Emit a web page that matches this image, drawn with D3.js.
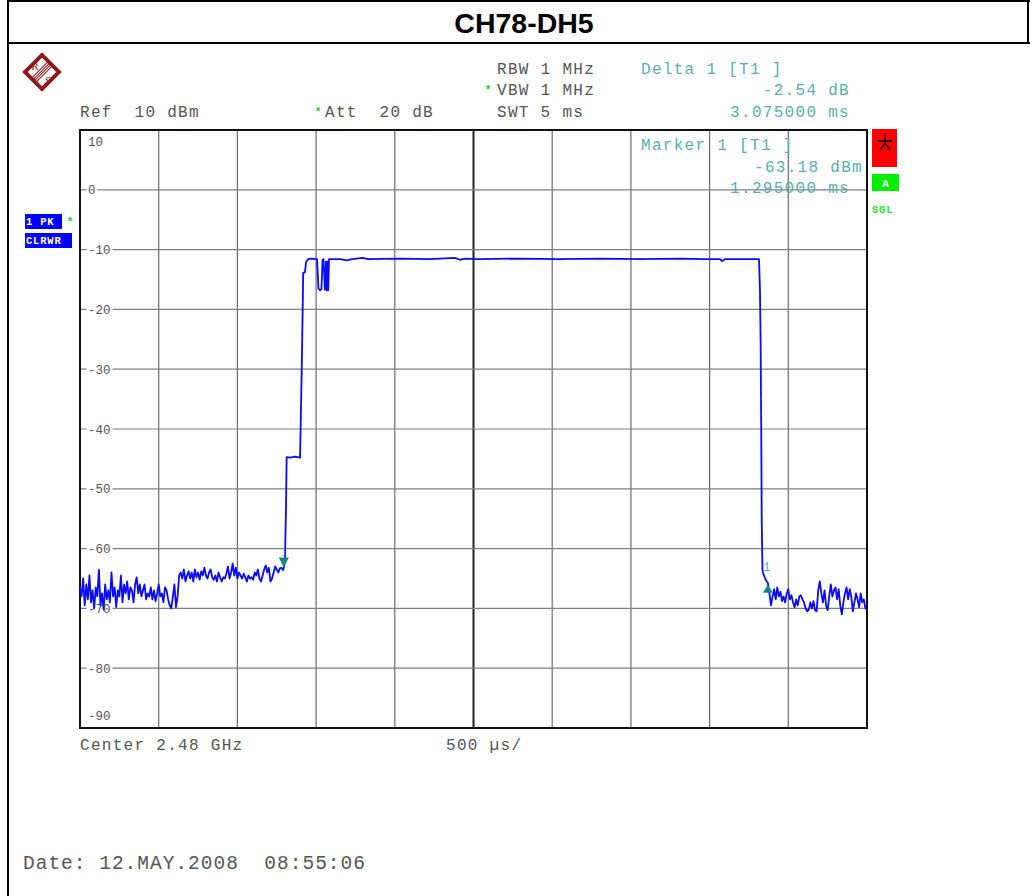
<!DOCTYPE html>
<html>
<head>
<meta charset="utf-8">
<script src="https://cdn.jsdelivr.net/npm/d3@7/dist/d3.min.js"></script>
<style>
  html, body { margin: 0; padding: 0; background: #fff; }
  svg { display: block; }
</style>
</head>
<body>
<svg id="chart" width="1030" height="896"></svg>
<script>
// ---- trace data (time in ms, level in dBm) ----
const sampleStepMs = 0.01;

// noise floor before the burst, sampled every 10 µs from 0 ms
const preBurstDbm = [
  -66.5, -68.0, -65.0, -69.5, -66.0, -68.5, -64.5, -69.0, -67.0, -70.0,
  -66.5, -68.0, -63.5, -69.5, -67.5, -70.2, -66.0, -68.5, -67.0, -69.0,
  -64.0, -68.0, -66.5, -69.8, -67.0, -68.0, -64.5, -69.0, -66.0, -67.5,
  -65.5, -68.5, -66.5, -67.0, -69.0, -66.0, -64.8, -67.5, -66.0, -68.0,
  -67.0, -66.0, -68.5, -67.5, -68.0, -66.5, -68.5, -67.0, -68.8, -67.5,
  -66.0, -68.0, -67.5, -69.0, -66.5, -67.0, -68.5, -69.5, -70.0, -68.0,
  -66.0, -69.8, -68.0,
  -64.5, -64.0, -65.0, -63.5, -65.5, -64.5, -63.8, -65.0, -64.0, -65.5,
  -63.5, -64.8, -64.0, -65.2, -63.8, -64.5, -63.2, -64.5, -65.0, -64.0,
  -63.5, -64.8, -65.2, -64.5, -65.5, -64.0, -64.8, -65.5, -64.8, -65.0,
  -64.2, -63.0, -65.0, -64.0, -62.5, -64.5, -63.2, -65.0, -64.0, -64.5,
  -65.0, -64.2, -64.8, -65.5, -64.5, -65.0, -64.8, -65.2, -64.0, -64.5,
  -63.5, -65.0, -65.5, -64.5, -63.5, -62.8, -64.0, -63.2, -65.5, -65.0,
  -64.0, -63.0, -63.5, -64.0, -63.3, -63.2
];

// the burst itself: rising edge, flat top and falling edge
const burstTimeMs = [
  1.290, 1.295, 1.302, 1.309, 1.313, 1.334, 1.366, 1.398, 1.409, 1.415,
  1.418, 1.429, 1.436, 1.449, 1.474, 1.506, 1.515, 1.525, 1.534, 1.541,
  1.547, 1.556, 1.563, 1.568, 1.573, 1.577, 1.582, 1.652, 1.696, 1.728,
  1.798, 1.830, 2.033, 2.224, 2.382, 2.414, 2.446, 2.541, 2.795, 3.049,
  3.304, 3.558, 3.812, 3.971, 4.066, 4.079, 4.098, 4.314, 4.320, 4.324,
  4.328, 4.331, 4.336, 4.339, 4.350, 4.358, 4.370
];
const burstDbm = [
  -63.6, -63.18, -61.9, -53.0, -44.7, -44.8, -44.6, -44.8, -29.6, -19.6,
  -13.9, -13.8, -12.1, -11.6, -11.5, -11.6, -16.5, -16.8, -16.6, -11.8,
  -11.6, -16.7, -12.0, -16.8, -12.0, -16.8, -11.6, -11.6, -11.8, -11.6,
  -11.4, -11.6, -11.5, -11.6, -11.4, -11.7, -11.5, -11.6, -11.5, -11.6,
  -11.5, -11.6, -11.5, -11.6, -11.6, -11.9, -11.6, -11.6, -16.8, -25.0,
  -40.0, -55.0, -63.6, -64.0, -64.8, -65.3, -65.72
];

// noise floor after the burst, sampled every 10 µs from 4.38 ms
const postBurstStartMs = 4.38;
const postBurstDbm = [
  -67.5, -69.5, -68.0, -66.8, -68.5, -66.5, -68.0, -67.2, -68.8, -68.0,
  -69.0, -67.5, -66.8, -68.5, -67.8, -69.0, -69.8, -68.5, -69.5, -68.0,
  -67.8, -68.5, -69.0, -70.0, -70.5, -70.2, -69.0, -70.0, -68.8, -70.3,
  -70.5, -67.0, -65.5, -67.5, -69.0, -67.0, -69.5, -70.3, -68.0, -66.0,
  -68.0, -67.0, -66.5, -68.5, -66.8, -69.5, -71.0, -69.0, -67.5, -66.5,
  -68.5, -66.8, -68.0, -70.5, -69.0, -67.5, -68.5, -69.8, -67.5, -69.0,
  -68.5, -70.0, -70.2
];

// axis definitions
const sweepMs = 5;
const refLevel = 10;
const bottomLevel = -90;
const timeDivisions = d3.range(0, 5.0001, 0.5);
const levelGrid = [0, -10, -20, -30, -40, -50, -60, -70, -80];
const levelLabels = ["10", "0", "-10", "-20", "-30", "-40", "-50", "-60", "-70", "-80", "-90"];

// markers
const marker1 = { t: 1.295, dbm: -63.18 };
const delta1 = { dt: 3.075, ddb: -2.54 };

// ---- build trace ----
const trace = [];
preBurstDbm.forEach((v, i) => trace.push([i * sampleStepMs, v]));
burstTimeMs.forEach((t, i) => trace.push([t, burstDbm[i]]));
postBurstDbm.forEach((v, i) => trace.push([postBurstStartMs + i * sampleStepMs, v]));

// ---- drawing ----
const svg = d3.select("#chart");
const L = 80, R = 867, T = 130, B = 728;
const x = d3.scaleLinear().domain([0, sweepMs]).range([L, R]);
const y = d3.scaleLinear().domain([bottomLevel, refLevel]).range([B, T]);

const gray = "#555";
const teal = "#5aaeb0";
const mono = '"Liberation Mono", "DejaVu Sans Mono", monospace';

// page frame and title bar
svg.append("rect").attr("width", 1030).attr("height", 896).attr("fill", "#fff");
svg.append("line").attr("x1", 8).attr("x2", 8).attr("y1", 0).attr("y2", 896).attr("stroke", "#000").attr("stroke-width", 2);
svg.append("line").attr("x1", 1028).attr("x2", 1028).attr("y1", 0).attr("y2", 44).attr("stroke", "#000").attr("stroke-width", 2);
svg.append("line").attr("x1", 7).attr("x2", 1030).attr("y1", 1).attr("y2", 1).attr("stroke", "#000").attr("stroke-width", 2);
svg.append("line").attr("x1", 7).attr("x2", 1030).attr("y1", 43).attr("y2", 43).attr("stroke", "#000").attr("stroke-width", 2);
svg.append("text").attr("x", 524).attr("y", 33).attr("text-anchor", "middle")
  .attr("font-family", "Liberation Sans, Arial, sans-serif").attr("font-weight", "bold")
  .attr("font-size", 28.5).text("CH78-DH5");

// R&S logo
const logo = svg.append("g").attr("transform", "translate(42,72)");
const lr = logo.append("g").attr("transform", "rotate(45)");
lr.append("rect").attr("x", -12).attr("y", -12).attr("width", 24).attr("height", 24)
  .attr("fill", "#fff").attr("stroke", "#8b1a1a").attr("stroke-width", 4);
[-3, -1, 1, 3].forEach(d => lr.append("line").attr("x1", d).attr("x2", d).attr("y1", -12).attr("y2", 12)
  .attr("stroke", "#8b1a1a").attr("stroke-width", 1));
logo.append("text").attr("x", -7).attr("y", -2).attr("text-anchor", "middle")
  .attr("font-family", "Liberation Serif, serif").attr("font-size", 11).attr("fill", "#8b1a1a").text("R");
logo.append("text").attr("x", 6).attr("y", 12).attr("text-anchor", "middle")
  .attr("font-family", "Liberation Serif, serif").attr("font-size", 11).attr("fill", "#8b1a1a").text("S");

// header settings text
function hdr(txt, tx, ty, color, anchor) {
  return svg.append("text").attr("x", tx).attr("y", ty)
    .attr("font-family", mono).attr("font-size", 16).attr("letter-spacing", 1.3)
    .attr("fill", color || gray).attr("text-anchor", anchor || "start")
    .attr("xml:space", "preserve").style("white-space", "pre").text(txt);
}
function greenStar(sx, sy) {
  svg.append("text").attr("x", sx).attr("y", sy).attr("text-anchor", "middle")
    .attr("font-family", mono).attr("font-size", 11).attr("font-weight", "bold")
    .attr("fill", "#00dd00").text("*");
}
hdr("Ref  10 dBm", 80, 117);
greenStar(318, 115);
hdr("Att  20 dB", 325, 117);
hdr("RBW 1 MHz", 497, 74);
greenStar(488, 93);
hdr("VBW 1 MHz", 497, 95);
hdr("SWT 5 ms", 497, 117);
hdr("Delta 1 [T1 ]", 641, 74, teal);
hdr(delta1.ddb.toFixed(2) + " dB", 850, 95, teal, "end");
hdr(delta1.dt.toFixed(6) + " ms", 850, 117, teal, "end");

// grid
const grid = svg.append("g");
timeDivisions.slice(1, -1).forEach(t => {
  grid.append("line").attr("x1", x(t)).attr("x2", x(t)).attr("y1", T).attr("y2", B)
    .attr("stroke", t === 2.5 ? "#222" : "#6a6a6a").attr("stroke-width", t === 2.5 ? 2 : 1.2);
});
levelGrid.forEach(v => {
  grid.append("line").attr("x1", L).attr("x2", R).attr("y1", y(v)).attr("y2", y(v))
    .attr("stroke", "#808080").attr("stroke-width", 1.2);
});

// level labels sitting on the grid lines
const labG = svg.append("g");
levelLabels.forEach((s, i) => {
  const v = refLevel - i * 10;
  let ly = y(v) + 4.5;
  if (i === 0) ly = T + 16;
  if (i === levelLabels.length - 1) ly = B - 8;
  const t = labG.append("text").attr("x", 88).attr("y", ly)
    .attr("font-family", mono).attr("font-size", 12.5)
    .attr("fill", gray).text(s);
  if (i > 0 && i < levelLabels.length - 1) {
    const bb = t.node().getBBox();
    labG.insert("rect", "text").attr("x", bb.x - 1.5).attr("y", y(v) - 2)
      .attr("width", bb.width + 3.5).attr("height", 4).attr("fill", "#fff");
  }
});

// marker 1 readout inside the plot
hdr("Marker 1 [T1 ]", 641, 150, teal);
hdr(marker1.dbm.toFixed(2) + " dBm", 863, 171.5, teal, "end");
hdr(marker1.t.toFixed(6) + " ms", 850, 193, teal, "end");

// plot frame
svg.append("rect").attr("x", L).attr("y", T).attr("width", R - L).attr("height", B - T)
  .attr("fill", "none").attr("stroke", "#111").attr("stroke-width", 2);

// trace
svg.append("path").datum(trace)
  .attr("fill", "none").attr("stroke", "#0a0aff").attr("stroke-width", 1.8)
  .attr("stroke-linejoin", "round")
  .attr("d", d3.line().x(d => x(d[0])).y(d => y(d[1])));

// markers
const mx = x(marker1.t), my = y(marker1.dbm);
svg.append("path").attr("d", `M${mx - 5},${my - 10}L${mx + 5},${my - 10}L${mx},${my}Z`).attr("fill", "#13877e");
svg.append("text").attr("x", mx).attr("y", my - 12).attr("text-anchor", "middle")
  .attr("font-family", mono).attr("font-size", 12).attr("fill", teal).attr("opacity", 0.35).text("1");
const dx = x(marker1.t + delta1.dt), dy = y(marker1.dbm + delta1.ddb);
svg.append("path").attr("d", `M${dx},${dy + 2}L${dx - 5},${dy + 10}L${dx + 5},${dy + 10}Z`).attr("fill", "#13877e");
svg.append("text").attr("x", dx - 1).attr("y", dy - 12).attr("text-anchor", "middle")
  .attr("font-family", mono).attr("font-size", 12).attr("fill", teal).text("1");

// trace status badges on the left
function badge(txt, bx, by, w, h, fill, color) {
  svg.append("rect").attr("x", bx).attr("y", by).attr("width", w).attr("height", h).attr("fill", fill);
  svg.append("text").attr("x", bx + 1).attr("y", by + h - 4)
    .attr("font-family", mono).attr("font-size", 10.5).attr("font-weight", "bold")
    .attr("letter-spacing", 0.8).attr("fill", color).attr("xml:space", "preserve")
    .style("white-space", "pre").text(txt);
}
badge("1 PK", 25, 214, 37, 15, "#0000ff", "#fff");
badge("CLRWR", 25, 233, 47, 15, "#0000ff", "#fff");
greenStar(70, 225);

// instrument status on the right
svg.append("rect").attr("x", 872).attr("y", 129).attr("width", 25).attr("height", 38).attr("fill", "#ff0000");
svg.append("path").attr("d", "M885,134L885,143M878,141L892,141M885,143L880,150M885,143L890,150")
  .attr("stroke", "#000").attr("stroke-width", 1.3).attr("fill", "none");
svg.append("rect").attr("x", 872).attr("y", 174).attr("width", 27).attr("height", 17).attr("fill", "#00ee00");
svg.append("text").attr("x", 885.5).attr("y", 186.5).attr("text-anchor", "middle")
  .attr("font-family", mono).attr("font-size", 11).attr("font-weight", "bold").attr("fill", "#fff").text("A");
svg.append("text").attr("x", 872).attr("y", 213)
  .attr("font-family", mono).attr("font-size", 10.5).attr("font-weight", "bold")
  .attr("letter-spacing", 0.8).attr("fill", "#22ee22").text("SGL");

// footer
hdr("Center 2.48 GHz", 80, 750);
hdr("500 µs/", 446, 750);
svg.append("text").attr("x", 23).attr("y", 869)
  .attr("font-family", mono).attr("font-size", 19.5).attr("letter-spacing", 1)
  .attr("fill", gray).attr("xml:space", "preserve").style("white-space", "pre")
  .text("Date: 12.MAY.2008  08:55:06");
</script>
</body>
</html>
